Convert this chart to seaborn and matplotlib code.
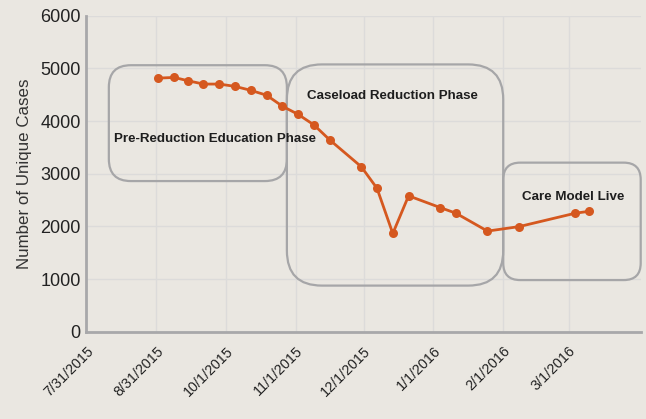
import numpy as np
import pandas as pd
import matplotlib
matplotlib.use("Agg")
import matplotlib.pyplot as plt
import matplotlib.dates as mdates
from matplotlib.patches import FancyBboxPatch
import seaborn as sns

# Data
dates = ["2015-09-01", "2015-09-08", "2015-09-14", "2015-09-21", "2015-09-28",
         "2015-10-05", "2015-10-12", "2015-10-19", "2015-10-26", "2015-11-02",
         "2015-11-09", "2015-11-16", "2015-11-30", "2015-12-07", "2015-12-14",
         "2015-12-21", "2016-01-04", "2016-01-11", "2016-01-25", "2016-02-08",
         "2016-03-04", "2016-03-10"]
cases = [4815, 4828, 4766, 4702, 4702, 4658, 4583, 4490, 4282, 4126, 3927,
         3642, 3133, 2722, 1865, 2580, 2357, 2250, 1910, 1995, 2250, 2285]

tick_dates = ["2015-07-31", "2015-08-31", "2015-10-01", "2015-11-01",
              "2015-12-01", "2016-01-01", "2016-02-01", "2016-03-01"]
tick_labels = ["7/31/2015", "8/31/2015", "10/1/2015", "11/1/2015",
               "12/1/2015", "1/1/2016", "2/1/2016", "3/1/2016"]

# phases: label, start, end, low, high, label date, label y
phase_names = ["Pre-Reduction Education Phase", "Caseload Reduction Phase", "Care Model Live"]
phase_start = ["2015-08-10", "2015-10-28", "2016-02-01"]
phase_end = ["2015-10-28", "2016-02-01", "2016-04-02"]
phase_low = [2860, 875, 980]
phase_high = [5060, 5075, 3210]
label_dates = ["2015-09-26", "2015-12-14", "2016-03-03"]
label_vals = [3650, 4475, 2560]

df = pd.DataFrame({"date": pd.to_datetime(dates), "cases": cases})

bg = "#EAE7E1"
sns.set_theme(style="whitegrid")
plt.rcParams["font.family"] = ["Liberation Sans", "DejaVu Sans"]

fig = plt.figure(figsize=(6.46, 4.19), dpi=100, facecolor=bg)
ax = fig.add_axes([0.1336, 0.2084, 0.8582, 0.7541])
ax.set_facecolor(bg)

sns.lineplot(data=df, x="date", y="cases", ax=ax, color="#D5581F",
             linewidth=2.0, marker="o", markersize=6.5, markeredgewidth=0,
             zorder=3)

ax.set_xlim(pd.Timestamp("2015-07-31"), pd.Timestamp("2016-04-02"))
ax.set_ylim(0, 6000)
ax.set_yticks(np.arange(0, 6001, 1000))
ax.set_xticks(pd.to_datetime(tick_dates))
ax.set_xticklabels(tick_labels, rotation=45, ha="right", rotation_mode="anchor",
                   fontsize=10.3, color="#222222")
ax.tick_params(axis="x", pad=9, length=0)
ax.tick_params(axis="y", labelsize=13, labelcolor="#222222", length=0, pad=4)
ax.set_xlabel("")
ax.set_ylabel("Number of Unique Cases", fontsize=12.2, color="#333333", labelpad=6)

ax.grid(True, color="#DCDBDA", linewidth=1.0)
for side in ["top", "right"]:
    ax.spines[side].set_visible(False)
for side in ["left", "bottom"]:
    ax.spines[side].set_color("#A8A8AA")
    ax.spines[side].set_linewidth(2.0)

# rounded phase boxes (equal corner radius in pixels)
bbox = ax.get_window_extent()
x0, x1 = ax.get_xlim()
px_per_x = bbox.width / (x1 - x0)
px_per_y = bbox.height / 6000
aspect = px_per_x / px_per_y
radii_px = [22, 35, 17]
for i in range(3):
    s = mdates.date2num(pd.Timestamp(phase_start[i]))
    e = mdates.date2num(pd.Timestamp(phase_end[i]))
    r = radii_px[i] / px_per_x
    box = FancyBboxPatch((s, phase_low[i]), e - s, phase_high[i] - phase_low[i],
                         boxstyle=f"round,pad=0,rounding_size={r}",
                         mutation_aspect=aspect, facecolor="none",
                         edgecolor="#A6A6A8", linewidth=1.6, zorder=2,
                         clip_on=False)
    ax.add_patch(box)
    ax.text(pd.Timestamp(label_dates[i]), label_vals[i], phase_names[i],
            ha="center", va="center", fontsize=9.6, fontweight="bold",
            color="#1E1E1E", zorder=4)

fig.savefig("out.png", dpi=100, facecolor=bg)
